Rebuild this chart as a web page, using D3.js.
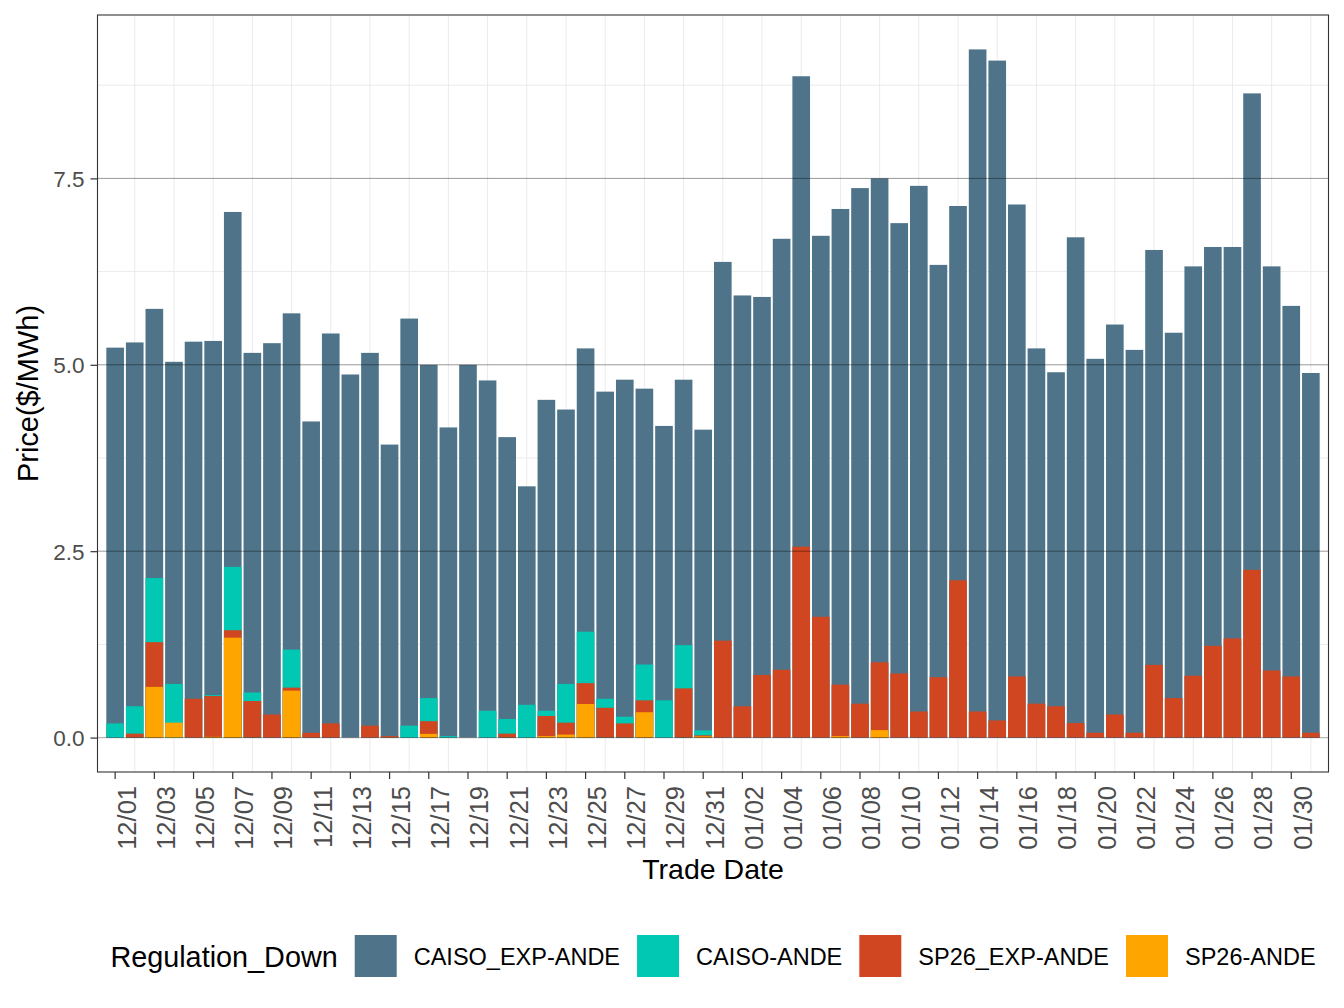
<!DOCTYPE html>
<html>
<head>
<meta charset="utf-8">
<script src="https://cdn.jsdelivr.net/npm/d3@7"></script>
<style>
  html, body { margin: 0; padding: 0; background: #fff; }
  svg { display: block; font-family: "Liberation Sans", Arial, Helvetica, sans-serif; }
</style>
</head>
<body>
<svg id="chart" width="1344" height="1008"></svg>
<script>
// ---------------- data ----------------
const categories = [
  "12/01","12/02","12/03","12/04","12/05","12/06","12/07","12/08","12/09","12/10",
  "12/11","12/12","12/13","12/14","12/15","12/16","12/17","12/18","12/19","12/20",
  "12/21","12/22","12/23","12/24","12/25","12/26","12/27","12/28","12/29","12/30","12/31",
  "01/01","01/02","01/03","01/04","01/05","01/06","01/07","01/08","01/09","01/10",
  "01/11","01/12","01/13","01/14","01/15","01/16","01/17","01/18","01/19","01/20",
  "01/21","01/22","01/23","01/24","01/25","01/26","01/27","01/28","01/29","01/30","01/31"
];
const tickLabels = [
  "12/01","12/03","12/05","12/07","12/09","12/11","12/13","12/15","12/17","12/19",
  "12/21","12/23","12/25","12/27","12/29","12/31","01/02","01/04","01/06","01/08",
  "01/10","01/12","01/14","01/16","01/18","01/20","01/22","01/24","01/26","01/28","01/30"
];
const yTicks = [0, 2.5, 5, 7.5];
const yMinor = [1.25, 3.75, 6.25, 8.75];

const seriesNames = ["CAISO_EXP-ANDE", "CAISO-ANDE", "SP26_EXP-ANDE", "SP26-ANDE"];
const seriesColors = ["#4f7489", "#00c8b3", "#d04620", "#ffa500"];

const caisoExpAnde = [
  5.23,5.30,5.75,5.04,5.31,5.32,7.05,5.16,5.29,5.69,
  4.24,5.42,4.87,5.16,3.93,5.62,5.00,4.16,5.00,4.79,
  4.03,3.37,4.53,4.40,5.22,4.64,4.80,4.68,4.18,4.80,4.13,
  6.38,5.93,5.91,6.69,8.87,6.73,7.09,7.37,7.50,6.90,
  7.40,6.34,7.13,9.23,9.08,7.15,5.22,4.90,6.71,5.08,
  5.54,5.20,6.54,5.43,6.32,6.58,6.58,8.64,6.32,5.79,4.89
];
const caisoAnde = [
  0.19,0.42,2.14,0.72,0,0.57,2.29,0.605,0,1.18,
  0,0,0,0,0,0.16,0.53,0.02,0,0.36,
  0.25,0.44,0.36,0.72,1.42,0.52,0.28,0.98,0.50,1.24,0.096,
  0,0,0,0,0,0,0,0,0,0,
  0,0,0,0,0,0,0,0,0,0,
  0,0,0,0,0,0,0,0,0,0,0
];
const sp26ExpAnde = [
  0,0.053,1.28,0,0.52,0.557,1.44,0.49,0.31,0.67,
  0.064,0.19,0,0.16,0.02,0,0.22,0,0,0,
  0.053,0,0.29,0.20,0.73,0.40,0.19,0.50,0,0.66,0.03,
  1.30,0.42,0.84,0.91,2.56,1.62,0.71,0.455,1.01,0.86,
  0.35,0.81,2.11,0.35,0.23,0.82,0.455,0.42,0.195,0.065,
  0.31,0.065,0.975,0.53,0.83,1.23,1.33,2.25,0.90,0.82,0.065
];
const sp26Ande = [
  0,0,0.68,0.20,0,0.01,1.34,0,0,0.63,
  0,0,0,0,0,0,0.05,0,0,0,
  0,0,0.02,0.04,0.45,0,0,0.34,0,0,0.016,
  0,0,0,0,0,0,0.02,0,0.10,0,
  0,0,0,0,0,0,0,0,0,0,
  0,0,0,0,0,0,0,0,0,0,0
];
const seriesValues = [caisoExpAnde, caisoAnde, sp26ExpAnde, sp26Ande];

// ---------------- layout ----------------
const panel = { left: 97.5, right: 1328.5, top: 15, bottom: 772 };
const svg = d3.select("#chart");

const x = d3.scaleBand()
  .domain(categories)
  .range([panel.left, panel.right])
  .paddingInner(0.1)
  .paddingOuter(0.45);

const yMax = d3.max(seriesValues.flat());
const yPad = yMax * 0.05;
const y = d3.scaleLinear()
  .domain([-yPad, yMax + yPad])
  .range([panel.bottom, panel.top]);

// panel background
svg.append("rect")
  .attr("x", panel.left).attr("y", panel.top)
  .attr("width", panel.right - panel.left).attr("height", panel.bottom - panel.top)
  .attr("fill", "#fff");

// minor grid (under bars)
const grid = svg.append("g");
grid.selectAll("line.ym").data(yMinor).join("line")
  .attr("x1", panel.left).attr("x2", panel.right)
  .attr("y1", d => y(d)).attr("y2", d => y(d))
  .attr("stroke", "#ebebeb").attr("stroke-width", 1);
const xMinorCats = categories.filter((c, i) => i % 2 === 1);
grid.selectAll("line.xm").data(xMinorCats).join("line")
  .attr("x1", d => x(d) + x.bandwidth() / 2).attr("x2", d => x(d) + x.bandwidth() / 2)
  .attr("y1", panel.top).attr("y2", panel.bottom)
  .attr("stroke", "#ebebeb").attr("stroke-width", 1);

// bars (overlaid, back to front)
seriesValues.forEach((vals, si) => {
  svg.append("g").selectAll("rect")
    .data(categories.map((c, i) => ({ c, v: vals[i] })).filter(d => d.v > 0))
    .join("rect")
    .attr("x", d => x(d.c))
    .attr("width", x.bandwidth())
    .attr("y", d => y(d.v))
    .attr("height", d => y(0) - y(d.v))
    .attr("fill", seriesColors[si]);
});

// major horizontal lines (drawn over bars)
svg.append("g").selectAll("line").data(yTicks).join("line")
  .attr("x1", panel.left).attr("x2", panel.right)
  .attr("y1", d => y(d)).attr("y2", d => y(d))
  .attr("stroke", "#000")
  .attr("stroke-opacity", d => d === 0 ? 0.28 : 0.4)
  .attr("stroke-width", d => d === 0 ? 1.4 : 1);

// panel border
svg.append("rect")
  .attr("x", panel.left).attr("y", panel.top)
  .attr("width", panel.right - panel.left).attr("height", panel.bottom - panel.top)
  .attr("fill", "none").attr("stroke", "#333333").attr("stroke-width", 1.1);

// y axis
const yAxis = d3.axisLeft(y).tickValues(yTicks).tickSize(7).tickPadding(6)
  .tickFormat(d3.format(".1f"));
const gy = svg.append("g").attr("transform", `translate(${panel.left},0)`).call(yAxis);
gy.select(".domain").remove();
gy.selectAll(".tick line").attr("stroke", "#333333").attr("stroke-width", 1.2);
gy.selectAll(".tick text")
  .attr("fill", "#4d4d4d")
  .style("font-size", "22.5px")
  .style("font-family", "'Liberation Sans', Arial, sans-serif")
  .attr("dy", "0.35em");

// x axis
const xAxis = d3.axisBottom(x).tickValues(tickLabels).tickSize(7).tickPadding(0);
const gx = svg.append("g").attr("transform", `translate(0,${panel.bottom})`).call(xAxis);
gx.select(".domain").remove();
gx.selectAll(".tick line").attr("stroke", "#333333").attr("stroke-width", 1.2);
gx.selectAll(".tick text")
  .attr("fill", "#4d4d4d")
  .style("font-size", "25.5px")
  .style("font-family", "'Liberation Sans', Arial, sans-serif")
  .attr("text-anchor", "end")
  .attr("y", 0)
  .attr("transform", "translate(0,14) rotate(-90)")
  .attr("dy", "0.8em");

// axis titles
svg.append("text")
  .attr("x", (panel.left + panel.right) / 2).attr("y", 879)
  .attr("text-anchor", "middle")
  .style("font-size", "28.5px").attr("fill", "#000")
  .text("Trade Date");
svg.append("text")
  .attr("transform", `translate(37.5,${(panel.top + panel.bottom) / 2}) rotate(-90)`)
  .attr("text-anchor", "middle")
  .style("font-size", "29px").attr("fill", "#000")
  .text("Price($/MWh)");

// legend
const legend = svg.append("g");
const keySize = 42, gap = 17;
const title = legend.append("text")
  .attr("x", 0).attr("y", 966.5)
  .style("font-size", "28.8px").attr("fill", "#000")
  .text("Regulation_Down");
let cx = title.node().getComputedTextLength() + gap;
seriesNames.forEach((name, i) => {
  legend.append("rect")
    .attr("x", cx).attr("y", 935)
    .attr("width", keySize).attr("height", keySize)
    .attr("fill", seriesColors[i]);
  cx += keySize + gap;
  const t = legend.append("text")
    .attr("x", cx).attr("y", 964.5)
    .style("font-size", "23.5px").attr("fill", "#000")
    .text(name);
  cx += t.node().getComputedTextLength();
  if (i < seriesNames.length - 1) cx += gap;
});
const legendLeft = (panel.left + panel.right) / 2 - cx / 2;
legend.attr("transform", `translate(${legendLeft},0)`);
</script>
</body>
</html>
